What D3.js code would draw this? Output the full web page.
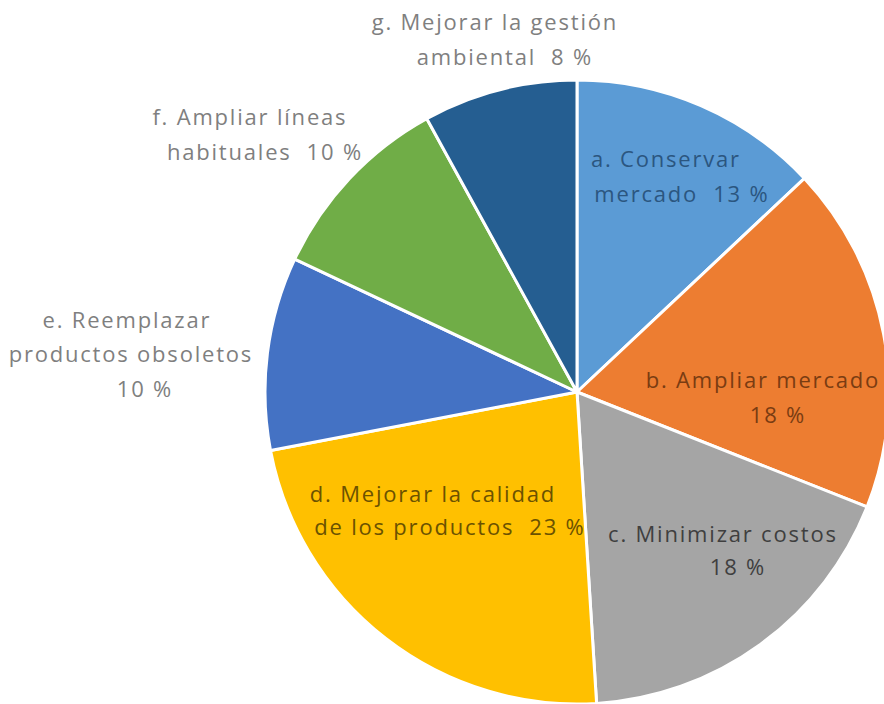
<!DOCTYPE html>
<html><head><meta charset="utf-8">
<script src="https://cdn.jsdelivr.net/npm/d3@7"></script>
<style>body{margin:0;background:#fff}svg{display:block}text{white-space:pre}</style>
</head><body>
<svg id="c" width="884" height="704"></svg>
<script>
const categories = ["a. Conservar mercado","b. Ampliar mercado","c. Minimizar costos","d. Mejorar la calidad de los productos","e. Reemplazar productos obsoletos","f. Ampliar líneas habituales","g. Mejorar la gestión ambiental"];
const values = [13, 18, 18, 23, 10, 10, 8];
const colors = ["#5B9BD5","#ED7D31","#A5A5A5","#FFC000","#4472C4","#70AD47","#255E91"];
const labelLines = [
  ["a. Conservar", "mercado  13 %"],
  ["b. Ampliar mercado", "18 %"],
  ["c. Minimizar costos", "18 %"],
  ["d. Mejorar la calidad", "de los productos  23 %"],
  ["e. Reemplazar", "productos obsoletos", "10 %"],
  ["f. Ampliar líneas", "habituales  10 %"],
  ["g. Mejorar la gestión", "ambiental  8 %"]
];
// layout: label line centers [x, baseline y]
const labelLayout = [
  [[665,167],[681,202]],
  [[762,388],[777,423]],
  [[722,542],[737,575]],
  [[432,502],[449,535]],
  [[126,328],[130,362],[144,397]],
  [[249,125],[264,160]],
  [[494,30],[504,65]]
];
const labelColors = ["#2B5680","#7A3C12","#3F3F3F","#6B5200","#7F7F7F","#7F7F7F","#7F7F7F"];

const svg = d3.select("#c");
const cx = 577, cy = 392, r = 312;
const pie = d3.pie().sort(null).value(d => d)(values);
const arc = d3.arc().innerRadius(0).outerRadius(r);
const g = svg.append("g").attr("transform", `translate(${cx},${cy})`);
g.selectAll("path").data(pie).join("path")
  .attr("d", arc)
  .attr("fill", (d,i) => colors[i])
  .attr("stroke", "#fff").attr("stroke-width", 3).attr("stroke-linejoin","round");

const ls = 1.8;
const lg = svg.append("g").attr("font-family","'Open Sans', sans-serif").attr("font-size",22)
  .attr("letter-spacing", ls + "px");
labelLines.forEach((lines, i) => {
  lines.forEach((t, j) => {
    lg.append("text").attr("x", labelLayout[i][j][0] + ls / 2).attr("y", labelLayout[i][j][1])
      .attr("text-anchor","middle").attr("fill", labelColors[i]).text(t);
  });
});
</script>
</body></html>
